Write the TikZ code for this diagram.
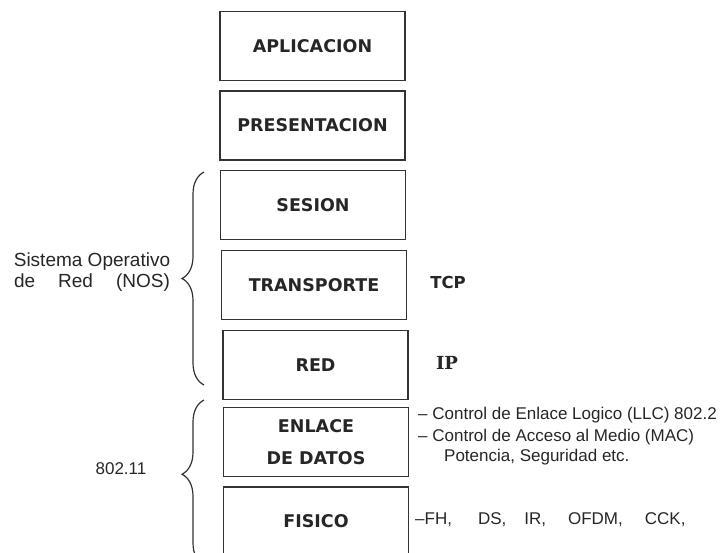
\documentclass[tikz,border=0pt]{standalone}
\usepackage{fontspec}
\setmainfont{Liberation Sans}
\newfontfamily\layerfont{DejaVu Sans}
\newfontfamily\ipfont{DejaVu Serif}
\usetikzlibrary{decorations.pathreplacing}
\tikzset{
  layer/.style={draw=black!80, line width=1.5pt, minimum width=185pt, minimum height=69pt,
    inner sep=0pt, align=center, text=black!85, font=\layerfont\bfseries\fontsize{17.5}{20}\selectfont},
  note/.style={anchor=west, inner sep=0pt, text=black!85, font=\fontsize{17}{20}\selectfont},
  bracket/.style={draw=black!80, line width=1.2pt, decorate, decoration={brace, amplitude=22pt}}
}

\begin{document}
\begin{tikzpicture}[x=1pt,y=-1pt]
\useasboundingbox (0,0) rectangle (725,552);
\node[layer] (aplic) at (312.5,46) {APLICACION};
\node[layer] (pres) at (312.5,125.5) {PRESENTACION};
\node[layer] (sesion) at (313,205) {SESION};
\node[layer] (transp) at (314,285) {TRANSPORTE};
\node[layer] (red) at (315.5,365) {RED};
\node[layer] (enlace) at (316,442) {ENLACE\\[12pt]DE DATOS};
\node[layer] (fisico) at (316,521.5) {FISICO};
\coordinate (nostop) at (204,172);
\coordinate (nosbot) at (204,385);
\coordinate (wifitop) at (204,400);
\coordinate (wifibot) at (204,565);
\draw[bracket] (nosbot) -- (nostop);
\draw[bracket, decoration={aspect=0.55}] (wifibot) -- (wifitop);
\node[align=center, text=black!85, font=\fontsize{19}{21}\selectfont] (nos) at (92,272)
  {Sistema Operativo\\\makebox[8.2em][s]{de Red (NOS)}};
\node[text=black!85, font=\fontsize{17}{20}\selectfont] (wifi) at (121,469) {802.11};
\node[text=black!85, font=\layerfont\bfseries\fontsize{16.5}{18}\selectfont] (tcp) at (448,282) {TCP};
\node[text=black!85, font=\ipfont\bfseries\fontsize{18}{20}\selectfont] (ip) at (447,363) {IP};
\node[note] (llc) at (418,415) {-- Control de Enlace Logico (LLC) 802.2};
\node[note] (mac) at (418,437) {-- Control de Acceso al Medio (MAC)};
\node[note] (pot) at (444,457) {Potencia, Seguridad etc.};
\node[note] (phy) at (415,520) {--FH,\hspace{26pt}DS,\hspace{18pt}IR,\hspace{22pt}OFDM,\hspace{22pt}CCK,};
\end{tikzpicture}
\end{document}
